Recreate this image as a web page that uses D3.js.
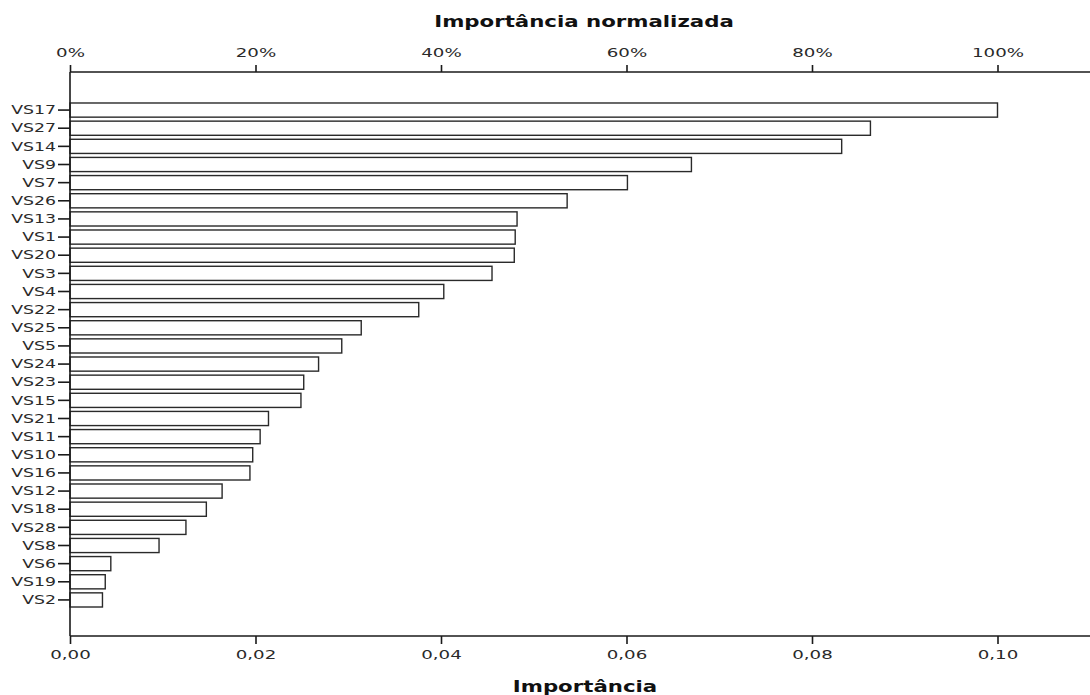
<!DOCTYPE html>
<html>
<head>
<meta charset="utf-8">
<script src="https://cdn.jsdelivr.net/npm/d3@7"></script>
<style>
  html, body { margin: 0; padding: 0; background: #fff; }
  svg text { font-family: "DejaVu Sans", Verdana, sans-serif; }
</style>
</head>
<body>
<svg id="chart" width="1090" height="695"></svg>
<script>
const categories = ["VS17","VS27","VS14","VS9","VS7","VS26","VS13","VS1","VS20","VS3","VS4","VS22","VS25","VS5","VS24","VS23","VS15","VS21","VS11","VS10","VS16","VS12","VS18","VS28","VS8","VS6","VS19","VS2"];
const importance = [0.1000,0.0863,0.0832,0.0670,0.0601,0.0536,0.0482,0.0480,0.0479,0.0455,0.0403,0.0376,0.0314,0.0293,0.0268,0.0252,0.0249,0.0214,0.0205,0.0197,0.0194,0.0164,0.0147,0.0125,0.0096,0.0044,0.0038,0.0035];
const bottomTicks = [0, 0.02, 0.04, 0.06, 0.08, 0.10];
const topTicks = [0, 0.2, 0.4, 0.6, 0.8, 1.0];
const topTitle = "Importância normalizada";
const bottomTitle = "Importância";

const svg = d3.select("#chart");
const left = 70, right = 1090.25, topY = 72, bottomY = 636;

const x = d3.scaleLinear().domain([0, 0.11]).range([left, right]);
const maxVal = d3.max(importance);
const xPct = d3.scaleLinear().domain([0, 0.11 / maxVal]).range([left, right]);
const y = d3.scaleBand().domain(categories).range([101, 609]).paddingInner(0.22).paddingOuter(0.11);

function stretch(sel, k) {
  sel.each(function () {
    const l = this.getComputedTextLength();
    this.setAttribute("textLength", l * k);
    this.setAttribute("lengthAdjust", "spacingAndGlyphs");
  });
}

// bars
svg.append("g").selectAll("rect")
  .data(categories)
  .join("rect")
  .attr("x", x(0))
  .attr("y", d => y(d))
  .attr("width", (d, i) => x(importance[i]) - x(0))
  .attr("height", y.bandwidth())
  .attr("fill", "#fff")
  .attr("stroke", "#2a2a2a")
  .attr("stroke-width", 1.4);

// bottom axis
const gb = svg.append("g")
  .attr("transform", `translate(0,${bottomY})`)
  .call(d3.axisBottom(x).tickValues(bottomTicks).tickSize(8).tickPadding(6)
    .tickFormat(d => d3.format(".2f")(d).replace(".", ",")));
// top axis
const gt = svg.append("g")
  .attr("transform", `translate(0,${topY})`)
  .call(d3.axisTop(xPct).tickValues(topTicks).tickSize(7).tickPadding(8)
    .tickFormat(d => Math.round(d * 100) + "%"));
// left axis
const gl = svg.append("g")
  .attr("transform", `translate(${left},0)`)
  .call(d3.axisLeft(y).tickSize(12).tickPadding(2));

[gb, gt, gl].forEach(g => {
  g.select(".domain").remove();
  g.selectAll(".tick line").attr("stroke", "#1a1a1a").attr("stroke-width", 1.6);
  g.selectAll(".tick text")
    .attr("fill", "#2a2a2a")
    .style("font-size", "13px")
    .style("font-family", "'DejaVu Sans', Verdana, sans-serif");
});

// axis lines
svg.append("line").attr("x1", left).attr("x2", right).attr("y1", bottomY).attr("y2", bottomY)
  .attr("stroke", "#1a1a1a").attr("stroke-width", 1.6);
svg.append("line").attr("x1", left).attr("x2", right).attr("y1", topY).attr("y2", topY)
  .attr("stroke", "#1a1a1a").attr("stroke-width", 1.6);
svg.append("line").attr("x1", left).attr("x2", left).attr("y1", topY).attr("y2", bottomY)
  .attr("stroke", "#1a1a1a").attr("stroke-width", 1.6);

// titles
const t1 = svg.append("text").attr("class", "title").attr("x", 584).attr("y", 27).attr("text-anchor", "middle")
  .style("font-size", "16px").style("font-weight", "bold").attr("fill", "#111").text(topTitle);
const t2 = svg.append("text").attr("class", "title").attr("x", 585).attr("y", 692).attr("text-anchor", "middle")
  .style("font-size", "16px").style("font-weight", "bold").attr("fill", "#111").text(bottomTitle);

stretch(gb.selectAll(".tick text"), 1.4);
stretch(gt.selectAll(".tick text"), 1.4);
stretch(gl.selectAll(".tick text"), 1.33);
stretch(svg.selectAll("text.title"), 1.33);
</script>
</body>
</html>
